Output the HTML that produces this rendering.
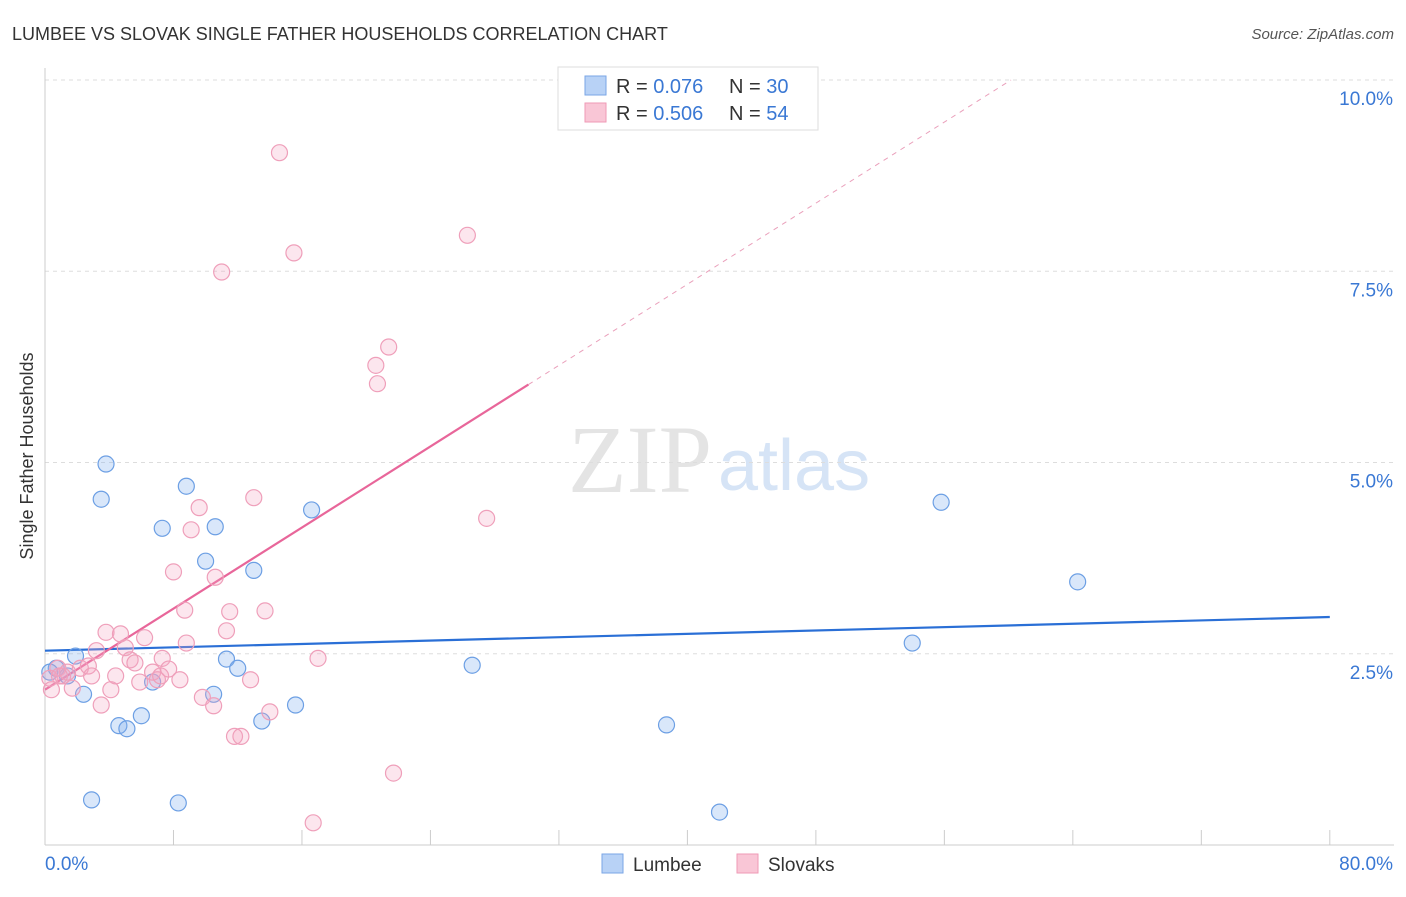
<!DOCTYPE html>
<html><head><meta charset="utf-8"><style>
body{margin:0;background:#fff;font-family:"Liberation Sans",sans-serif}
svg text{font-family:"Liberation Sans",sans-serif}
</style></head><body>
<svg id="c" width="1406" height="892">
<text x="12" y="40" font-size="18" fill="#333">LUMBEE VS SLOVAK SINGLE FATHER HOUSEHOLDS CORRELATION CHART</text>
<text x="1394" y="39" font-size="15" fill="#555" text-anchor="end" font-style="italic">Source: ZipAtlas.com</text>
<text x="33" y="456" font-size="18" fill="#333" text-anchor="middle" transform="rotate(-90 33 456)">Single Father Households</text>
<text x="712" y="492" font-size="96" fill="#e4e4e4" text-anchor="end" font-family="Liberation Serif" style="font-family:'Liberation Serif',serif">ZIP</text>
<text x="718" y="490" font-size="72" fill="#d6e4f6">atlas</text>
<g id="grid"></g><g id="axes"></g><g id="lines"></g><g id="pts"></g>
<g>
<rect x="558" y="67" width="260" height="63" fill="#fff" stroke="#ddd"/>
<rect x="585" y="76" width="21" height="19" fill="#b8d2f6" stroke="#7aa6e6"/>
<rect x="585" y="103" width="21" height="19" fill="#f9c6d6" stroke="#ef9ab6"/>
<text x="616" y="93" font-size="20" fill="#333">R = <tspan fill="#3a78d4">0.076</tspan><tspan x="729">N = </tspan><tspan fill="#3a78d4">30</tspan></text>
<text x="616" y="120" font-size="20" fill="#333">R = <tspan fill="#3a78d4">0.506</tspan><tspan x="729">N = </tspan><tspan fill="#3a78d4">54</tspan></text>
</g>
<g>
<rect x="602" y="854" width="21" height="19" fill="#b8d2f6" stroke="#7aa6e6"/>
<text x="633" y="871" font-size="19" fill="#333">Lumbee</text>
<rect x="737" y="854" width="21" height="19" fill="#f9c6d6" stroke="#ef9ab6"/>
<text x="768" y="871" font-size="19" fill="#333">Slovaks</text>
</g>
</svg>
<script>
const blueX=[0.7,1.4,1.9,2.4,2.9,3.5,3.8,4.6,5.1,6.0,6.7,7.3,8.3,8.8,10.0,10.5,10.6,11.3,12.0,13.0,13.5,15.6,16.6,26.6,38.7,42.0,54.0,55.8,64.3,0.3];
const blueY=[2.31,2.21,2.47,1.97,0.59,4.52,4.98,1.56,1.52,1.69,2.13,4.14,0.55,4.69,3.71,1.97,4.16,2.43,2.31,3.59,1.62,1.83,4.38,2.35,1.57,0.43,2.64,4.48,3.44,2.26];
const pinkX=[0.3,0.4,0.8,1.1,1.4,1.7,2.2,2.7,2.9,3.2,3.5,3.8,4.1,4.4,4.7,5.0,5.3,5.6,5.9,6.2,6.7,7.0,7.2,7.3,7.7,8.0,8.4,8.7,8.8,9.1,9.6,9.8,10.5,10.6,11.0,11.3,11.5,11.8,12.2,12.8,13.0,13.7,14.0,14.6,15.5,16.7,17.0,20.6,20.7,21.4,21.7,26.3,27.5,0.9];
const pinkY=[2.18,2.03,2.31,2.21,2.26,2.05,2.31,2.34,2.21,2.54,1.83,2.78,2.03,2.21,2.76,2.58,2.42,2.38,2.13,2.71,2.26,2.16,2.21,2.44,2.30,3.57,2.16,3.07,2.64,4.12,4.41,1.93,1.82,3.50,7.49,2.80,3.05,1.42,1.42,2.16,4.54,3.06,1.74,9.05,7.74,0.29,2.44,6.27,6.03,6.51,0.94,7.97,4.27,2.21];
const blueTrend=[2.54,2.98];   // y at x=0 and x=80
const pinkTrend=[2.03,0.1325]; // intercept, slope
const yTicks=[2.5,5.0,7.5,10.0];
const yTickLabels=["2.5%","5.0%","7.5%","10.0%"];
const xTicks=[0,10,20,30,40,50,60,70,80];
const NS="http://www.w3.org/2000/svg";
const X=v=>45+v*16.06, Y=v=>845-v*76.5;
function mk(p,t,a){const e=document.createElementNS(NS,t);for(const k in a)e.setAttribute(k,a[k]);document.getElementById(p).appendChild(e);return e;}
yTicks.forEach((v,i)=>{
 const l=mk('grid','line',{x1:45,x2:1394,y1:Y(v),y2:Y(v),stroke:'#ddd','stroke-dasharray':'4 4'});
 
 
 const t=mk('axes','text',{x:1393,y:Y(v)+25,'font-size':19,fill:'#3a78d4','text-anchor':'end'});t.textContent=yTickLabels[i];
 
 
});
mk('axes','line',{x1:45,x2:45,y1:68,y2:845,stroke:'#ccc'});
mk('axes','line',{x1:45,x2:1394,y1:845,y2:845,stroke:'#ccc'});
for(let v=0;v<=80;v+=8){const l=mk('axes','line',{x1:X(v),x2:X(v),y1:830,y2:845,stroke:'#ccc'});
 
 }
let t0=mk('axes','text',{x:45,y:870,'font-size':19,fill:'#3a78d4'});t0.textContent='0.0%';


let t1=mk('axes','text',{x:1393,y:870,'font-size':19,fill:'#3a78d4','text-anchor':'end'});t1.textContent='80.0%';


blueX.forEach((x,i)=>{const c=mk('pts','circle',{cx:X(x),cy:Y(blueY[i]),r:8,fill:'rgba(130,175,240,0.3)',stroke:'#6c9fe4','stroke-width':1.2});
 
 });
pinkX.forEach((x,i)=>{const c=mk('pts','circle',{cx:X(x),cy:Y(pinkY[i]),r:8,fill:'rgba(245,165,195,0.28)',stroke:'#ef9fba','stroke-width':1.2});
 
 });
let bl=mk('lines','line',{x1:X(0),y1:Y(blueTrend[0]),x2:X(80),y2:Y(blueTrend[1]),stroke:'#2a6fd6','stroke-width':2.2});


const pe=30.1, pEnd=(10.0-pinkTrend[0])/pinkTrend[1];
let pl=mk('lines','line',{x1:X(0),y1:Y(pinkTrend[0]),x2:X(pe),y2:Y(pinkTrend[0]+pinkTrend[1]*pe),stroke:'#e8669a','stroke-width':2.2});


let pd=mk('lines','line',{x1:X(pe),y1:Y(pinkTrend[0]+pinkTrend[1]*pe),x2:X(pEnd),y2:Y(10.0),stroke:'#eaa0bb','stroke-width':1,'stroke-dasharray':'5 5'});


</script>
</body></html>
